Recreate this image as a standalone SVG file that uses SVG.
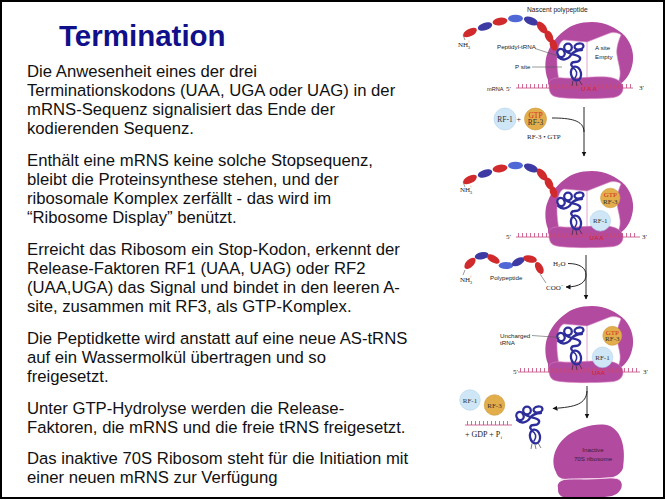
<svg xmlns="http://www.w3.org/2000/svg" xmlns:xlink="http://www.w3.org/1999/xlink" width="667" height="500" viewBox="0 0 667 500">
<style>
.b{font-family:"Liberation Sans",Arial,Helvetica,sans-serif;font-size:16.7px;fill:#111}
.t{font-family:"Liberation Sans",Arial,Helvetica,sans-serif;font-size:29.5px;font-weight:bold;fill:#10108a}
.s{font-family:"Liberation Sans",Arial,Helvetica,sans-serif;font-size:6.2px;fill:#222}
.r{font-family:"Liberation Serif","Times New Roman",serif;font-size:7px;fill:#222}
.sm{font-family:"Liberation Serif","Times New Roman",serif;font-size:4.8px;fill:#222}
.rf{font-family:"Liberation Serif","Times New Roman",serif;font-size:7.5px;fill:#333;text-anchor:middle}
.uaa{font-family:"Liberation Sans",Arial,sans-serif;font-size:6.2px;fill:#d42020;text-anchor:middle}
.ribo{fill:#b24ba0}
.cav{fill:#fff;stroke:#d890c8;stroke-width:0.6}
.div{stroke:#d890c8;stroke-width:0.8;fill:none}
.sub{fill:#b24ba0;stroke:#d67cbf;stroke-width:0.6}
.mr{stroke:#c2487e;stroke-width:0.8;fill:none}
.tk{stroke:#c2487e;stroke-width:4;stroke-dasharray:0.8 3.2;fill:none}
.tr{stroke:#2d2d9b;stroke-width:2.3;fill:none;stroke-linecap:round}
.leg{stroke:#222;stroke-width:0.6;fill:none}
.red{fill:#d02a2c}
.blu{fill:#3d3aa3}
.lbl{fill:#4f68d6}
.ld{stroke:#555;stroke-width:0.6;fill:none}
.ar{stroke:#111;stroke-width:0.9;fill:none}
.c1{fill:#cfe6f6;stroke:#b3d5ee;stroke-width:0.6}
.c3{fill:#e2ae4c;stroke:#cf983a;stroke-width:0.6}
</style>
<defs>
<marker id="ah" viewBox="0 0 10 10" refX="9" refY="5" markerWidth="5" markerHeight="6" markerUnits="userSpaceOnUse" orient="auto">
<path d="M0,0 L10,5 L0,10 Z" fill="#111"/>
</marker>
<g id="ribosome">
<path class="ribo" d="M548,80 C544,70 545,58 548,52 C551,44 556,37 564,31 C571,25 580,22 592,22 C605,22 617,28 625,36 C632,44 635,56 632,66 C630,74 626,80 620,84 L548,84 Z"/>
<path class="cav" d="M560,84 C557,73 556,58 558,50 C559,44 561,41 564,40 L587,42 L610,33 C615,32 619,33 621,35 C618,42 616,49 617,55 C618,63 621,70 620,76 L618,84 Z"/>
<path class="div" d="M587,42 L587,84"/>
<path class="sub" d="M549,86 C547,80 553,77 563,78 C577,79 592,76 607,77 C617,78 623,82 623,88 C623,95 617,98 607,98 C592,99 567,99 557,97 C551,96 549,92 549,86 Z"/>
</g>
<g id="trna">
<ellipse class="tr" cx="5" cy="11" rx="3.6" ry="4.2" transform="rotate(-20 5 11)"/>
<circle class="tr" cx="12" cy="5.5" r="3.8"/>
<ellipse class="tr" cx="23" cy="4.5" rx="4.5" ry="3" transform="rotate(-10 23 4.5)"/>
<path class="tr" d="M2,15 C6,19 12,18 15,13 C18,9 21,8 26,8"/>
<path class="tr" d="M9,8.5 C12,12 18,12 22,14 C26,16 24,20 19,20 C15,20 14,23 17,25"/>
<ellipse class="tr" cx="20" cy="31.5" rx="5" ry="7" transform="rotate(-12 20 31.5)"/>
<path class="tr" d="M17,26 C21,28 22,32 19,36" style="stroke-width:1.6"/>
<path class="leg" d="M17,38.5 L16,44 M20,39.5 L21,44 M23,38 L26,43"/>
</g>
<g id="chain">
<path class="ld" d="M463,35 L465,40"/>
<ellipse class="red" cx="470" cy="32.5" rx="7.5" ry="3.8" transform="rotate(-28 470 32.5)"/>
<ellipse class="blu" cx="485" cy="26.5" rx="7.5" ry="3.8" transform="rotate(-18 485 26.5)"/>
<ellipse class="red" cx="500" cy="21.5" rx="7.5" ry="3.8" transform="rotate(-10 500 21.5)"/>
<ellipse class="lbl" cx="515.5" cy="18.5" rx="7.5" ry="3.8"/>
<ellipse class="blu" cx="531" cy="21" rx="7.5" ry="3.8" transform="rotate(22 531 21)"/>
<ellipse class="red" cx="542" cy="27.5" rx="7" ry="3.8" transform="rotate(50 542 27.5)"/>
<ellipse class="red" cx="549" cy="36.5" rx="6.5" ry="3.8" transform="rotate(65 549 36.5)"/>
<ellipse class="red" cx="553.5" cy="45" rx="6" ry="3.6" transform="rotate(72 553.5 45)"/>
</g>
</defs>

<rect x="0" y="0" width="667" height="500" fill="#fff"/>

<g id="title"><text class="t" x="59" y="46">Termination</text></g>

<g id="text">
<text class="b"><tspan x="27" y="76.5">Die Anwesenheit eines der drei</tspan><tspan x="27" y="95.7">Terminationskodons (UAA, UGA oder UAG) in der</tspan><tspan x="27" y="114.9">mRNS-Sequenz signalisiert das Ende der</tspan><tspan x="27" y="134.1">kodierenden Sequenz.</tspan></text>
<text class="b"><tspan x="27" y="165.6">Enthält eine mRNS keine solche Stopsequenz,</tspan><tspan x="27" y="184.8">bleibt die Proteinsynthese stehen, und der</tspan><tspan x="27" y="204">ribosomale Komplex zerfällt - das wird im</tspan><tspan x="27" y="223.2">“Ribosome Display” benützt.</tspan></text>
<text class="b"><tspan x="27" y="254.6">Erreicht das Ribosom ein Stop-Kodon, erkennt der</tspan><tspan x="27" y="273.8">Release-Faktoren RF1 (UAA, UAG) oder RF2</tspan><tspan x="27" y="293">(UAA,UGA) das Signal und bindet in den leeren A-</tspan><tspan x="27" y="312.2">site, zusammen mit RF3, als GTP-Komplex.</tspan></text>
<text class="b"><tspan x="27" y="343.6">Die Peptidkette wird anstatt auf eine neue AS-tRNS</tspan><tspan x="27" y="362.8">auf ein Wassermolkül übertragen und so</tspan><tspan x="27" y="382">freigesetzt.</tspan></text>
<text class="b"><tspan x="27" y="413.6">Unter GTP-Hydrolyse werden die Release-</tspan><tspan x="27" y="432.8">Faktoren, die mRNS und die freie tRNS freigesetzt.</tspan></text>
<text class="b"><tspan x="27" y="464.2">Das inaktive 70S Ribosom steht für die Initiation mit</tspan><tspan x="27" y="483.4">einer neuen mRNS zur Verfügung</tspan></text>
</g>

<g id="step1">
<use xlink:href="#ribosome" href="#ribosome"/>
<path class="mr" d="M516,88 L633,88"/>
<path class="tk" d="M518,86 L632,86"/>
<use xlink:href="#chain" href="#chain"/>
<use xlink:href="#trna" href="#trna" transform="translate(556,42)"/>
<text class="s" x="527" y="12" style="font-size:6.7px">Nascent polypeptide</text>
<text class="r" x="458" y="47">NH</text><text class="sm" x="467.8" y="48.5">3</text><text class="sm" x="467.6" y="42.8">+</text>
<text class="s" x="497" y="49">Peptidyl-tRNA</text>
<path class="ld" d="M535,48.5 L558,56"/>
<text class="s" x="515" y="68.5">P site</text>
<path class="ld" d="M532,67 L562,67"/>
<text class="s" x="595" y="50">A site</text>
<text class="s" x="595" y="59">Empty</text>
<text class="s" x="487" y="90.5" style="font-size:5.6px">mRNA</text>
<text class="r" x="506" y="90.5">5′</text>
<text class="r" x="639" y="89.5">3′</text>
<text class="uaa" x="589" y="90.5" textLength="16" lengthAdjust="spacing">UAA</text>
<circle class="c1" cx="505" cy="119" r="11"/>
<text class="rf" x="505" y="121.5">RF-1</text>
<text class="r" x="516.5" y="121.5" style="font-size:8px">+</text>
<circle class="c3" cx="535.5" cy="119" r="11"/>
<text class="rf" x="535.5" y="117.5" style="fill:#d42a1e">GTP</text>
<text class="rf" x="535.5" y="125">RF-3</text>
<text class="r" x="527" y="139">RF-3 • GTP</text>
</g>

<g id="step2">
<use xlink:href="#ribosome" href="#ribosome" transform="translate(0,149)"/>
<path class="mr" d="M516,237 L640,237"/>
<path class="tk" d="M518,235 L638,235"/>
<use xlink:href="#chain" href="#chain" transform="translate(0,147)"/>
<use xlink:href="#trna" href="#trna" transform="translate(556,191)"/>
<text class="r" x="460" y="192">NH</text><text class="sm" x="469.8" y="193.5">3</text><text class="sm" x="469.6" y="187.8">+</text>
<circle class="c3" cx="610.3" cy="198" r="9.8"/>
<text class="rf" x="610.3" y="197" style="font-size:7px;fill:#d42a1e">GTP</text>
<text class="rf" x="610.3" y="203.5" style="font-size:7px">RF-3</text>
<circle class="c1" cx="600.3" cy="220.8" r="10.3"/>
<text class="rf" x="600.3" y="223.3" style="font-size:7px">RF-1</text>
<text class="r" x="506" y="238.5">5′</text>
<text class="r" x="642" y="238.5">3′</text>
<text class="uaa" x="596.5" y="239.5" textLength="14" lengthAdjust="spacing">UAA</text>
</g>

<g id="polypeptide">
<path class="ld" d="M465,270 L463,275 M540,274 L546,283"/>
<ellipse class="red" cx="470" cy="263.3" rx="7" ry="3.8" transform="rotate(-45 470 263.3)"/>
<ellipse class="blu" cx="481.7" cy="255.7" rx="7" ry="3.6" transform="rotate(-12 481.7 255.7)"/>
<ellipse class="red" cx="493.3" cy="259" rx="7" ry="3.6" transform="rotate(30 493.3 259)"/>
<ellipse class="lbl" cx="506" cy="265.5" rx="7.3" ry="3.6"/>
<ellipse class="blu" cx="518.3" cy="261.7" rx="7" ry="3.6" transform="rotate(-28 518.3 261.7)"/>
<ellipse class="red" cx="530" cy="259" rx="7" ry="3.6" transform="rotate(12 530 259)"/>
<ellipse class="red" cx="539.3" cy="268" rx="6.5" ry="3.6" transform="rotate(62 539.3 268)"/>
<text class="r" x="460" y="282">NH</text><text class="sm" x="469.8" y="283.5">3</text><text class="sm" x="469.6" y="277.8">+</text>
<text class="s" x="490" y="280">Polypeptide</text>
<text class="r" x="546" y="289.5">COO</text><text class="sm" x="561" y="286.5">−</text>
<text class="r" x="553" y="265.5">H</text><text class="sm" x="558" y="267">2</text><text class="r" x="560.5" y="265.5">O</text>
</g>

<g id="step3">
<use xlink:href="#ribosome" href="#ribosome" transform="translate(0,284)"/>
<path class="mr" d="M518,372 L640,372"/>
<path class="tk" d="M520,370 L638,370"/>
<use xlink:href="#trna" href="#trna" transform="translate(556,326)"/>
<text class="s" x="500" y="337.5">Uncharged</text>
<text class="s" x="500" y="344.5">tRNA</text>
<path class="ld" d="M532,335.5 L560,337.5"/>
<circle class="c3" cx="612.3" cy="335.8" r="9.5"/>
<text class="rf" x="612.3" y="334.8" style="font-size:7px;fill:#d42a1e">GTP</text>
<text class="rf" x="612.3" y="341.3" style="font-size:7px">RF-3</text>
<circle class="c1" cx="602.5" cy="357.3" r="10.3"/>
<text class="rf" x="602.5" y="359.8" style="font-size:7px">RF-1</text>
<text class="r" x="513" y="374">5′</text>
<text class="r" x="643" y="374">3′</text>
<text class="uaa" x="598.5" y="374.5" textLength="13" lengthAdjust="spacing">UAA</text>
</g>

<g id="released">
<circle class="c1" cx="470" cy="400" r="10.3"/>
<text class="rf" x="470" y="402.5" style="font-size:7px">RF-1</text>
<circle class="c3" cx="494.5" cy="405" r="10.3"/>
<text class="rf" x="494.5" y="407.5" style="font-size:7px">RF-3</text>
<path class="mr" d="M465,425 L512,425"/>
<path class="tk" d="M467,423 L511,423"/>
<text class="r" x="465" y="437" style="font-size:8px" xml:space="preserve">+ GDP + P</text><text class="sm" x="500.8" y="438.6">i</text>
<use xlink:href="#trna" href="#trna" transform="translate(515,405)"/>
</g>

<g id="inactive">
<path class="ribo" d="M556,472 C550,460 555,445 568,435 C580,427 598,422 610,426 C622,432 626,448 623,468 C621,474 615,478 605,478 L565,479 C560,479 557,476 556,472 Z"/>
<path class="ribo" d="M558,488 C556,481 565,478 580,479 C595,480 610,477 618,479 C625,483 622,493 612,496 C595,499 575,499 563,497 C558,495 558,491 558,488 Z"/>
<path d="M560,480 C570,478 590,480 605,478 C612,477 617,478 620,480" stroke="#f4d4ec" stroke-width="0.9" fill="none"/>
<text class="s" x="593" y="452" text-anchor="middle" style="fill:#3a1a36">Inactive</text>
<text class="s" x="593" y="460.5" text-anchor="middle" style="fill:#3a1a36">70S ribosome</text>
</g>

<g id="connectors">
<path class="ar" d="M584,107 L584,156" marker-end="url(#ah)"/>
<path class="ar" d="M552,118 C570,118 584,120 584,132"/>
<path class="ar" d="M586,255 L586,299" marker-end="url(#ah)"/>
<path class="ar" d="M568,263.5 C580,263.5 586,268 586,275 C586,282 580,287 566,287" marker-end="url(#ah)"/>
<path class="ar" d="M587,386 L587,418" marker-end="url(#ah)"/>
<path class="ar" d="M587,391 C586,404 576,407 553,408.5" marker-end="url(#ah)"/>
</g>

<rect x="1" y="1" width="663" height="497" fill="none" stroke="#000" stroke-width="2"/>
</svg>
